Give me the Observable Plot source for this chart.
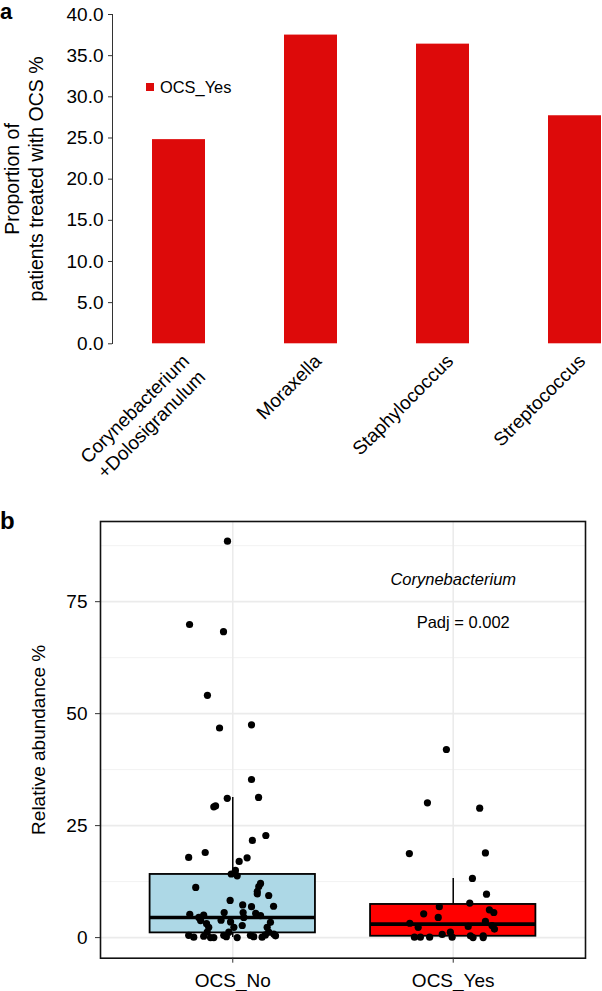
<!DOCTYPE html>
<html>
<head>
<meta charset="utf-8">
<script src="https://cdn.jsdelivr.net/npm/d3@7"></script>
<script src="https://cdn.jsdelivr.net/npm/@observablehq/plot@0.6"></script>
<style>
html, body { margin: 0; padding: 0; background: #fff; overflow: hidden; }
#wrap { position: relative; width: 602px; height: 991px; overflow: hidden; background: #fff;
  font-family: "Liberation Sans", Arial, Helvetica, sans-serif; color: #000; }
#pa { position: absolute; left: 0; top: 0; }
#pb { position: absolute; left: 0; top: 500px; }
.plab { position: absolute; font-weight: bold; }
.leg-key { position: absolute; left: 146px; top: 83px; width: 7.5px; height: 7.5px; background: #dd0a0a; }
.leg-txt { position: absolute; left: 160px; top: 78.5px; font-size: 16.4px; line-height: 16px; }
</style>
</head>
<body>
<div id="wrap">
  <div id="pa"></div>
  <div id="pb"></div>
  <div class="plab" style="left:0px; top:1px; font-size:22px; line-height:22px;">a</div>
  <div class="plab" style="left:0px; top:509px; font-size:24px; line-height:24px;">b</div>
  <div class="leg-key"></div>
  <div class="leg-txt">OCS_Yes</div>
</div>
<script>
const FONT = '"Liberation Sans", Arial, Helvetica, sans-serif';

// ---------- Panel a data ----------
const categories = ["Corynebacterium\n+Dolosigranulum", "Moraxella", "Staphylococcus", "Streptococcus"];
const proportions = [24.8, 37.5, 36.4, 27.7];
const yTicksA = [0, 5, 10, 15, 20, 25, 30, 35, 40];
const yTitleA = "Proportion of\npatients treated with OCS %";

// ---------- Panel b data ----------
const groups = ["OCS_No", "OCS_Yes"];
const groupPos = [1, 2];
const q1 = [1.05, 0.3];
const medians = [4.5, 3.0];
const q3 = [14.1, 7.4];
const whiskerLo = [0, 0];
const whiskerHi = [31.3, 13.2];
const yTicksB = [0, 25, 50, 75];
const yMinorB = [12.5, 37.5, 62.5, 87.5];

const noValues = [88.5, 69.9, 68.3, 54.1, 46.8, 47.5, 35.3, 31.1, 31.3, 29.2, 29.4, 22.8, 21.7, 17.9, 19.0, 17.8, 17.0,
  14.2, 15.0, 13.8, 11.2, 12.1, 11.4, 10.3, 9.75, 9.4, 8.3, 7.0, 7.3, 6.9, 5.6, 5.6, 5.2, 5.0, 4.5, 5.4, 4.9, 3.8, 3.1,
  3.9, 3.5, 4.5, 3.4, 2.3, 2.3, 2.7, 2.3, 1.2, 1.2, 1.2, 0.8, 0.5, 0.1, 0.3, 0.0, 0.0, 0.5, 0.2, 0.0, 0.5, 0.2, 0.1, 0.6, 0.4];
const noJitter = [-0.024, -0.196, -0.042, -0.115, -0.060, 0.085, 0.085, -0.025, 0.117, -0.086, -0.078, 0.150, 0.089,
  -0.200, -0.125, 0.065, 0.029, -0.007, 0.012, 0.020, -0.168, 0.126, 0.118, 0.111, 0.111, 0.163, -0.012, 0.185, 0.045,
  0.085, -0.039, 0.047, -0.195, -0.132, -0.154, 0.104, 0.126, -0.146, -0.119, -0.053, -0.010, 0.050, 0.171, -0.109,
  0.005, 0.043, 0.156, -0.116, -0.018, 0.163, 0.186, -0.200, -0.177, -0.132, -0.101, -0.086, -0.041, -0.029, 0.020,
  0.080, 0.095, 0.133, 0.148, 0.194];
const yesValues = [42.0, 30.1, 28.9, 18.75, 18.9, 13.2, 9.7, 7.7, 6.9, 5.3, 4.5, 6.2, 5.6, 3.2, 2.3, 2.5, 3.6, 1.9, 2.7,
  0.7, 1.2, 0.1, 0.1, 0.1, 0.1, 0.4, 0.0, 0.4, 0.0];
const yesJitter = [-0.031, -0.117, 0.120, -0.199, 0.146, 0.087, 0.151, 0.075, -0.063, -0.134, -0.068, 0.164, 0.184,
  -0.197, -0.159, 0.068, 0.146, 0.187, 0.176, -0.050, -0.013, -0.005, -0.176, -0.149, -0.107, 0.078, 0.090, 0.136, 0.136];
const annotations = [
  {label: "Corynebacterium", group: 2, y: 80, italic: true},
  {label: "Padj = 0.002", group: 2, y: 70.4, italic: false}
];

// ---------- Panel a ----------
const barsA = categories.map((c, i) => ({cat: c, value: proportions[i]}));
const plotA = Plot.plot({
  width: 602, height: 500,
  marginLeft: 112, marginTop: 14, marginBottom: 157, marginRight: 0,
  style: {fontFamily: FONT, background: "transparent", color: "#000"},
  x: {type: "band", domain: categories, range: [111.7, 641], paddingInner: 0.6, paddingOuter: 0.3, axis: null},
  y: {domain: [0, 40], range: [343.3, 14], axis: null},
  marks: [
    Plot.barY(barsA, {x: "cat", y: "value", fill: "#dd0a0a"}),
    Plot.frame({anchor: "left", stroke: "#333", strokeWidth: 1}),
    Plot.axisY({ticks: yTicksA, tickFormat: d => d.toFixed(1), tickSize: 4, tickPadding: 5, fontSize: 19, label: null, stroke: "#333"}),
    Plot.text(barsA, {x: "cat", y: () => 0, text: "cat", rotate: -45, textAnchor: "end", lineAnchor: "top",
      dy: 7, dx: 0, fontSize: 19, lineHeight: 1.2}),
    Plot.text([yTitleA], {frameAnchor: "left", textAnchor: "middle", dx: -89, rotate: -90, fontSize: 19.5, lineHeight: 1.2})
  ]
});
document.getElementById("pa").appendChild(plotA);

// ---------- Panel b ----------
const boxes = groups.map((g, i) => ({group: g, pos: groupPos[i], q1: q1[i], med: medians[i], q3: q3[i], lo: whiskerLo[i], hi: whiskerHi[i]}));
const points = [
  ...noValues.map((v, i) => ({pos: groupPos[0], jit: noJitter[i], v})),
  ...yesValues.map((v, i) => ({pos: groupPos[1], jit: yesJitter[i], v}))
];
const HALF = 0.375;
const plotB = Plot.plot({
  width: 602, height: 491,
  marginLeft: 100, marginRight: 17, marginTop: 21, marginBottom: 33.3,
  style: {fontFamily: FONT, background: "transparent", color: "#000"},
  x: {type: "linear", domain: [0.4, 2.6], axis: null},
  y: {domain: [-4.6, 92.9], axis: null},
  color: {domain: groups, range: ["#add8e6", "#ff0000"]},
  marks: [
    Plot.ruleY(yMinorB, {stroke: "#f2f2f2", strokeWidth: 1}),
    Plot.ruleY(yTicksB, {stroke: "#ebebeb", strokeWidth: 1.6}),
    Plot.ruleX(groupPos, {stroke: "#ebebeb", strokeWidth: 1.6}),
    Plot.ruleX(boxes, {x: "pos", y1: "q3", y2: "hi", stroke: "#000", strokeWidth: 1.5}),
    Plot.ruleX(boxes, {x: "pos", y1: "lo", y2: "q1", stroke: "#000", strokeWidth: 1.5}),
    Plot.rect(boxes, {x1: d => d.pos - HALF, x2: d => d.pos + HALF, y1: "q1", y2: "q3", fill: "group", stroke: "#000", strokeWidth: 1.8}),
    Plot.ruleY(boxes, {x1: d => d.pos - HALF, x2: d => d.pos + HALF, y: "med", stroke: "#000", strokeWidth: 3.6}),
    Plot.dot(points, {x: d => d.pos + d.jit, y: "v", r: 3.6, fill: "#000", stroke: "none"}),
    Plot.text(annotations.filter(a => a.italic), {x: "group", y: "y", text: "label", fontStyle: "italic", fontSize: 16.5}),
    Plot.text(annotations.filter(a => !a.italic), {x: "group", y: "y", text: "label", fontSize: 16.5, dx: 10}),
    Plot.frame({stroke: "#111", strokeWidth: 1.6}),
    Plot.axisY({ticks: yTicksB, tickSize: 5, tickPadding: 8, fontSize: 19, label: null, stroke: "#333"}),
    Plot.axisX({ticks: groupPos, tickFormat: d => groups[groupPos.indexOf(d)], tickSize: 5, tickPadding: 10, fontSize: 19, label: null, stroke: "#333"}),
    Plot.text(["Relative abundance %"], {frameAnchor: "left", textAnchor: "middle", dx: -62, rotate: -90, fontSize: 19})
  ]
});
document.getElementById("pb").appendChild(plotB);
</script>
</body>
</html>
